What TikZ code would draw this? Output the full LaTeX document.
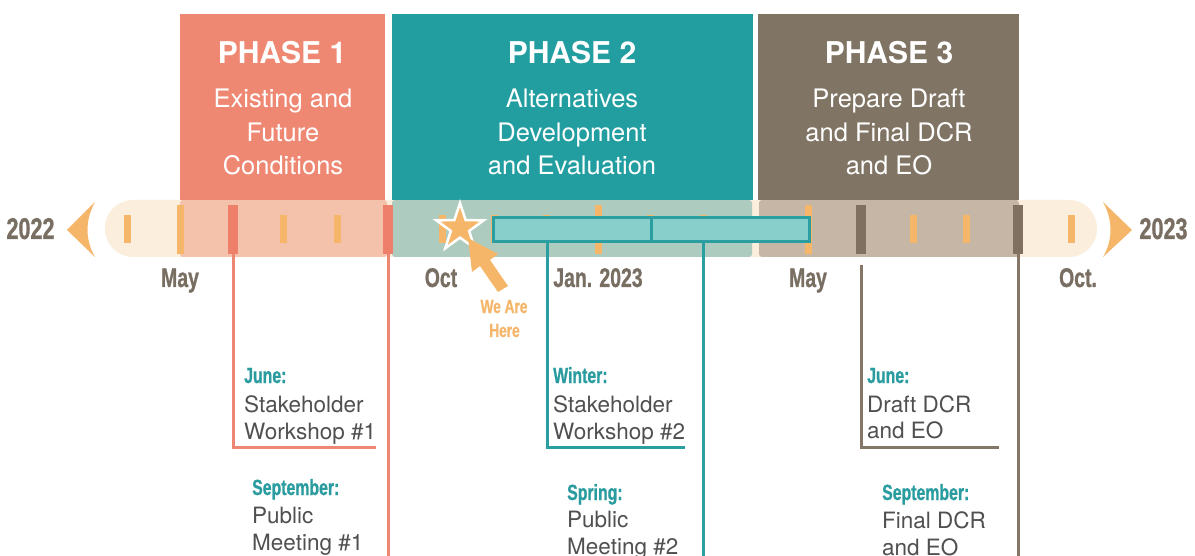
\documentclass[tikz,border=0pt]{standalone}
\usepackage{fontspec}
\setmainfont{TeX Gyre Heros}
\newfontfamily\condf[FakeStretch=0.72, FakeBold=0.8]{Liberation Sans}
\usetikzlibrary{shapes.geometric}
\definecolor{pone}{HTML}{EF8873}
\definecolor{ptwo}{HTML}{229EA1}
\definecolor{pthree}{HTML}{807464}
\definecolor{bone}{HTML}{F4C2AB}
\definecolor{btwo}{HTML}{AECBBF}
\definecolor{bthree}{HTML}{C6B6A6}
\definecolor{cream}{HTML}{FBEEDC}
\definecolor{orng}{HTML}{F5B66A}
\definecolor{redtick}{HTML}{EE7F6B}
\definecolor{browntick}{HTML}{7F7060}
\definecolor{labgray}{HTML}{786E62}
\definecolor{tealtxt}{HTML}{2A9C9F}
\definecolor{bodygray}{HTML}{505050}
\definecolor{barfill}{HTML}{88CFCB}
\definecolor{tealline}{HTML}{2A9EA0}
\definecolor{salline}{HTML}{EE8674}
\definecolor{brline}{HTML}{857766}
\tikzset{
  phT/.style={font=\bfseries\fontsize{30}{30}\selectfont, text=white, anchor=base, inner sep=0pt},
  phS/.style={font=\fontsize{25.5}{25.5}\selectfont, text=white, anchor=base, inner sep=0pt},
  cond/.style={font=\condf\bfseries\fontsize{27}{27}\selectfont, text=labgray, anchor=base, inner sep=0pt},
  lab/.style={font=\condf\bfseries\fontsize{22}{22}\selectfont, text=tealtxt, anchor=base west, inner sep=0pt},
  body/.style={font=\fontsize{22.5}{22.5}\selectfont, text=bodygray, anchor=base west, inner sep=0pt},
  tickS/.style={rectangle, fill=orng, minimum width=7pt, minimum height=28pt, inner sep=0pt},
  tickL/.style={rectangle, fill=orng, minimum width=7pt, minimum height=49pt, inner sep=0pt},
  tickR/.style={rectangle, fill=redtick, minimum width=10pt, minimum height=49pt, inner sep=0pt},
  tickB/.style={rectangle, fill=browntick, minimum width=10pt, minimum height=49pt, inner sep=0pt},
  barst/.style={rectangle, fill=barfill, draw=tealline, line width=3pt, minimum height=24pt, inner sep=0pt},
  lone/.style={draw=salline, line width=3pt},
  ltwo/.style={draw=tealline, line width=3pt},
  lthree/.style={draw=brline, line width=3pt},
}
\begin{document}
\begin{tikzpicture}[x=1pt,y=-1pt]
\useasboundingbox (0,0) rectangle (1195,556);
\fill[white] (0,0) rectangle (1195,556);

% timeline background
\fill[cream, rounded corners=28pt] (105,200) rectangle (1097,257);
\fill[bone, rounded corners=3pt] (180,200) rectangle (387,257);
\fill[btwo, rounded corners=3pt] (392,200) rectangle (752,257);
\fill[bthree, rounded corners=3pt] (759,200) rectangle (1019,257);

% phase boxes
\fill[pone] (180,14) rectangle (385,200);
\fill[ptwo] (392,14) rectangle (753,200);
\fill[pthree] (758,14) rectangle (1019,200);

\node[phT] (p1t) at (282,64) {PHASE 1};
\node[phS] (p1a) at (283,108) {Existing and};
\node[phS] (p1b) at (283,141.5) {Future};
\node[phS] (p1c) at (283,174.5) {Conditions};

\node[phT] (p2t) at (572,64) {PHASE 2};
\node[phS] (p2a) at (572,108) {Alternatives};
\node[phS] (p2b) at (572,141.5) {Development};
\node[phS] (p2c) at (572,174.5) {and Evaluation};

\node[phT] (p3t) at (889,64) {PHASE 3};
\node[phS] (p3a) at (889,108) {Prepare Draft};
\node[phS] (p3b) at (889,141.5) {and Final DCR};
\node[phS] (p3c) at (889,174.5) {and EO};

% end arrows
\fill[orng] (67,230) -- (95,202) .. controls (85,220) and (85,240) .. (95,257) -- cycle;
\fill[orng] (1132,230) -- (1103,202) .. controls (1113,220) and (1113,240) .. (1103,257) -- cycle;
\node[cond, font=\condf\bfseries\fontsize{30}{30}\selectfont] (y22) at (30.5,239) {2022};
\node[cond, font=\condf\bfseries\fontsize{30}{30}\selectfont] (y23) at (1163.5,239) {2023};

% month ticks
\node[tickS] (tApr) at (127,229) {};
\node[tickL] (tMay) at (180,229.5) {};
\node[tickR] (tJun) at (233,229.5) {};
\node[tickS] (tJul) at (283,229) {};
\node[tickS] (tAug) at (337,229) {};
\node[tickR] (tSep) at (388,229.5) {};
\node[tickS] (tOct) at (442,229) {};
\node[tickS] (tNov) at (494,229) {};
\node[tickS] (tDec) at (546,229) {};
\node[tickL] (tJan) at (598,229.5) {};
\node[tickS] (tFeb) at (650,229) {};
\node[tickS] (tMar) at (703,229) {};
\node[tickL] (tMay3) at (808,229.5) {};
\node[tickB] (tJun3) at (861,229.5) {};
\node[tickS] (tJul3) at (913,229) {};
\node[tickS] (tAug3) at (966,229) {};
\node[tickB] (tSep3) at (1018,229.5) {};
\node[tickS] (tOct3) at (1071,229) {};

% phase 2 bar
\node[barst, minimum width=158pt] (barA) at (572,230) {};
\node[barst, minimum width=158pt] (barB) at (730,230) {};

% month labels
\node[cond] (lMay) at (180,287) {May};
\node[cond] (lOct) at (441,287) {Oct};
\node[cond] (lJan) at (598,287) {Jan. 2023};
\node[cond] (lMay3) at (808,287) {May};
\node[cond] (lOct3) at (1078,287) {Oct.};

% connectors
\coordinate (k1) at (376,447);
\draw[lone] (tJun.south) |- (k1);
\coordinate (k2) at (388,556);
\draw[lone] (tSep.south) -- (k2);
\coordinate (k3) at (685,447);
\draw[ltwo] ([xshift=-25pt]barA.south) |- (k3);
\coordinate (k4) at (703,556);
\draw[ltwo] ([xshift=-27pt]barB.south) -- (k4);
\coordinate (k5) at (999,447);
\draw[lthree] ([yshift=-11pt]tJun3.south) |- (k5);
\coordinate (k6) at (1018,556);
\draw[lthree] (tSep3.south) -- (k6);

% we are here
\node[star, star points=5, star point ratio=2.6, fill=orng, draw=white, line width=2.5pt, minimum size=50pt, inner sep=0pt] (star) at (460,228) {};
\fill[orng] (468,238) -- (498,254) -- (490,260) -- (508,286) -- (498,292) -- (480,266) -- (472,272) -- cycle;
\node[cond, text=orng, font=\condf\bfseries\fontsize{19}{19}\selectfont] (we) at (504,313) {We Are};
\node[cond, text=orng, font=\condf\bfseries\fontsize{19}{19}\selectfont] (here) at (504.5,337) {Here};

% phase 1 labels
\node[lab] (a1) at (244,383) {June:};
\node[body] (a2) at (244,412) {Stakeholder};
\node[body] (a3) at (244,439) {Workshop \#1};
\node[lab] (a4) at (252,495) {September:};
\node[body] (a5) at (252,523) {Public};
\node[body] (a6) at (252,550) {Meeting \#1};

% phase 2 labels
\node[lab] (b1) at (553,383) {Winter:};
\node[body] (b2) at (553,412) {Stakeholder};
\node[body] (b3) at (553,439) {Workshop \#2};
\node[lab] (b4) at (567,500) {Spring:};
\node[body] (b5) at (567,527) {Public};
\node[body] (b6) at (567,554) {Meeting \#2};

% phase 3 labels
\node[lab] (c1) at (867,383) {June:};
\node[body] (c2) at (867,412) {Draft DCR};
\node[body] (c3) at (867,438) {and EO};
\node[lab] (c4) at (882,500) {September:};
\node[body] (c5) at (882,528) {Final DCR};
\node[body] (c6) at (882,555) {and EO};
\end{tikzpicture}
\end{document}
